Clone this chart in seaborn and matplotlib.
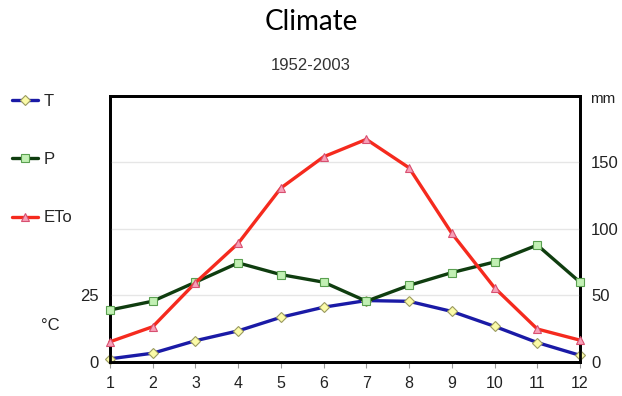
"""Climate chart: temperature, precipitation and ETo by month, 1952-2003."""

import matplotlib.pyplot as plt
import pandas as pd
import seaborn as sns
from matplotlib.lines import Line2D

sns.set_theme(style="white")
plt.rcParams["font.family"] = ["Liberation Sans", "DejaVu Sans"]

# ---------------------------------------------------------------------------
# Data
# ---------------------------------------------------------------------------

months = [1, 2, 3, 4, 5, 6, 7, 8, 9, 10, 11, 12]
temp_c = [1.2, 3.3, 8.0, 11.7, 16.8, 20.6, 23.1, 22.8, 19.0, 13.4, 7.3, 2.5]
precip_mm = [39.1, 45.7, 60.0, 74.5, 65.7, 60.0, 45.7, 57.6, 67.2, 75.2, 87.9, 60.0]
eto_mm = [15.2, 26.5, 59.6, 89.2, 130.8, 154.3, 167.4, 146.0, 96.7, 55.8, 24.8, 16.4]

left_ticks = [0, 25]
right_ticks = [0, 50, 100, 150]

df = pd.DataFrame({"month": months, "T": temp_c, "P": precip_mm, "ETo": eto_mm})

# series styles: line colour, marker, marker face, marker edge
styles = {
    "T": ("#1a1aa6", "D", "#fbfba8", "#9a9a60"),
    "P": ("#0f3d0f", "s", "#c2f0b4", "#5aa050"),
    "ETo": ("#f52a1e", "^", "#f7a0b8", "#d85070"),
}

fig = plt.figure(figsize=(6.22, 3.96), dpi=100)
ax = fig.add_axes([0.1768, 0.0859, 0.7557, 0.6717])
ax2 = ax.twinx()


def draw(axis, col):
    color, marker, face, edge = styles[col]
    sns.lineplot(
        data=df, x="month", y=col, ax=axis, color=color, linewidth=2.4,
        marker=marker, markersize=6 if marker != "D" else 5,
        markerfacecolor=face, markeredgecolor=edge, markeredgewidth=0.8,
        clip_on=False, zorder=3,
    )


draw(ax, "T")
draw(ax2, "P")
draw(ax2, "ETo")

ax.set_xlim(1, 12)
ax.set_ylim(0, 100)
ax2.set_ylim(0, 200)
ax.set_xticks(months)
ax.set_yticks(left_ticks)
ax2.set_yticks(right_ticks)
ax.set_xlabel("")
ax.set_ylabel("")
ax2.set_ylabel("")

# right-axis grid, drawn below the lines
ax2.set_axisbelow(True)
for v in right_ticks[1:]:
    ax2.axhline(v, color="#e6e6e6", linewidth=1, zorder=0)

for axis in (ax, ax2):
    for sp in axis.spines.values():
        sp.set_color("black")
        sp.set_linewidth(2)

ax.tick_params(axis="x", length=4, width=0.8, color="#999999", direction="out",
               bottom=True, labelsize=11.5, labelcolor="#222222", pad=6)
ax.tick_params(axis="y", length=0, labelsize=12, labelcolor="#222222", pad=8)
ax2.tick_params(axis="y", length=0, labelsize=12, labelcolor="#222222", pad=8)

# unit labels
fig.text(590 / 622, 1 - 99 / 396, "mm", fontsize=11, color="#222222",
         va="center", ha="left")
fig.text(50 / 622, 1 - 325 / 396, "°C", fontsize=12, color="#222222",
         va="center", ha="center")

# legend on the left outside the plot
handles = []
for col in ["T", "P", "ETo"]:
    color, marker, face, edge = styles[col]
    handles.append(Line2D([0], [0], color=color, linewidth=2.4, marker=marker,
                          markersize=6 if marker != "D" else 5,
                          markerfacecolor=face, markeredgecolor=edge,
                          markeredgewidth=0.8))
fig.legend(handles, ["T", "P", "ETo"], loc="upper left",
           bbox_to_anchor=(0.0, 1 - 82 / 396), frameon=False, fontsize=12,
           handlelength=1.6, handletextpad=0.3, labelspacing=2.6,
           borderaxespad=0.3)

fig.text(0.5, 1 - 22 / 396, "Climate", fontsize=20, ha="center", va="center",
         family=["Lato", "DejaVu Sans"], color="black")
fig.text(0.5, 1 - 66 / 396, "1952-2003", fontsize=12, ha="center",
         va="center", color="#333333")

fig.savefig("out.png", dpi=100)
